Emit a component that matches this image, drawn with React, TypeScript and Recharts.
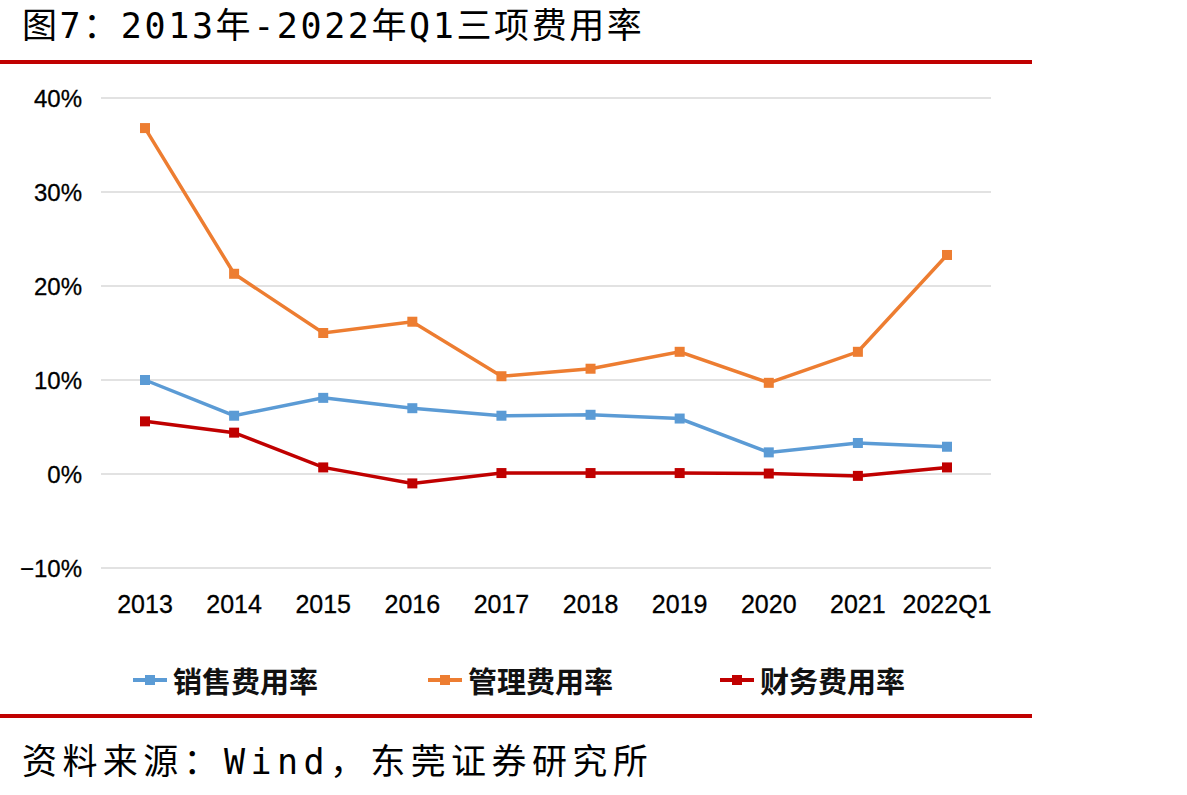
import React from 'react';
import { LineChart, Line, XAxis, YAxis, CartesianGrid } from 'recharts';

// Categories and expense ratios (%)
const periods = ['2013', '2014', '2015', '2016', '2017', '2018', '2019', '2020', '2021', '2022Q1'];
const sellingRate = [10.0, 6.2, 8.1, 7.0, 6.2, 6.3, 5.9, 2.3, 3.3, 2.9];
const adminRate = [36.8, 21.3, 15.0, 16.2, 10.4, 11.2, 13.0, 9.7, 13.0, 23.3];
const financeRate = [5.6, 4.4, 0.7, -1.0, 0.1, 0.1, 0.1, 0.05, -0.2, 0.7];
const yTicks = [-10, 0, 10, 20, 30, 40];

const seriesNames = ['销售费用率', '管理费用率', '财务费用率'];
const seriesColors = ['#5B9BD5', '#ED7D31', '#C00000'];

const data = periods.map((p, i) => ({
  period: p,
  selling: sellingRate[i],
  admin: adminRate[i],
  finance: financeRate[i],
}));

const cjkFont = '"Noto Sans CJK SC", "Noto Sans", sans-serif';
const headFont = '"DejaVu Sans Mono", "Noto Sans CJK SC", monospace';
const numFont = '"Liberation Sans", Arial, sans-serif';

const SquareDot = (props: any) => {
  const { cx, cy, stroke } = props;
  if (cx == null || cy == null) return null;
  return <rect x={cx - 5} y={cy - 5} width={10} height={10} fill={stroke} />;
};

const legendLefts = [133, 428, 720];

const ChartLegend = () => (
  <div style={{ position: 'absolute', left: 0, top: 660, width: 1187, height: 40 }}>
    {seriesNames.map((name, i) => (
      <div key={name} style={{ position: 'absolute', left: legendLefts[i], top: 0, display: 'flex', alignItems: 'center' }}>
        <svg width={34} height={12} style={{ marginRight: 6 }}>
          <line x1={0} y1={6} x2={34} y2={6} stroke={seriesColors[i]} strokeWidth={4} />
          <rect x={12} y={1} width={10} height={10} fill={seriesColors[i]} />
        </svg>
        <span style={{ fontFamily: cjkFont, fontSize: 29, fontWeight: 600, color: '#111', lineHeight: '40px' }}>{name}</span>
      </div>
    ))}
  </div>
);

const headStyle: React.CSSProperties = {
  position: 'absolute',
  left: 22,
  fontFamily: headFont,
  fontSize: 35,
  letterSpacing: 2.6,
  color: '#000',
  lineHeight: '52px',
  whiteSpace: 'nowrap',
};

export default function App() {
  return (
    <div style={{ position: 'absolute', left: 0, top: 0, width: 1187, height: 795, background: '#fff', overflow: 'hidden' }}>
      <div style={{ ...headStyle, top: 0 }}>图7：2013年-2022年Q1三项费用率</div>
      <div style={{ position: 'absolute', left: 0, top: 60, width: 1032, height: 4, background: '#C00000' }} />
      <LineChart
        width={1187}
        height={795}
        data={data}
        margin={{ top: 98, right: 196, bottom: 187, left: 21 }}
      >
        <CartesianGrid horizontal vertical={false} stroke="#d9d9d9" strokeWidth={1.5} />
        <XAxis
          dataKey="period"
          axisLine={false}
          tickLine={false}
          tickSize={0}
          tickMargin={27}
          height={40}
          interval={0}
          padding={{ left: 44, right: 44 }}
          tick={{ fontFamily: numFont, fontSize: 25, fill: '#000', stroke: '#000', strokeWidth: 0.3 }}
        />
        <YAxis
          width={80}
          domain={[-10, 40]}
          ticks={yTicks}
          axisLine={false}
          tickLine={false}
          tickSize={0}
          tickMargin={19}
          tickFormatter={(v: number) => (v < 0 ? `−${Math.abs(v)}%` : `${v}%`)}
          tick={{ fontFamily: numFont, fontSize: 24, fill: '#000', stroke: '#000', strokeWidth: 0.3 }}
        />
        <Line dataKey="selling" name={seriesNames[0]} stroke={seriesColors[0]} strokeWidth={3.5} dot={<SquareDot />} isAnimationActive={false} />
        <Line dataKey="admin" name={seriesNames[1]} stroke={seriesColors[1]} strokeWidth={3.5} dot={<SquareDot />} isAnimationActive={false} />
        <Line dataKey="finance" name={seriesNames[2]} stroke={seriesColors[2]} strokeWidth={3.5} dot={<SquareDot />} isAnimationActive={false} />
      </LineChart>
      <ChartLegend />
      <div style={{ position: 'absolute', left: 0, top: 714, width: 1032, height: 4, background: '#C00000' }} />
      <div style={{ ...headStyle, top: 736, letterSpacing: 5.4 }}>资料来源：Wind，东莞证券研究所</div>
    </div>
  );
}
